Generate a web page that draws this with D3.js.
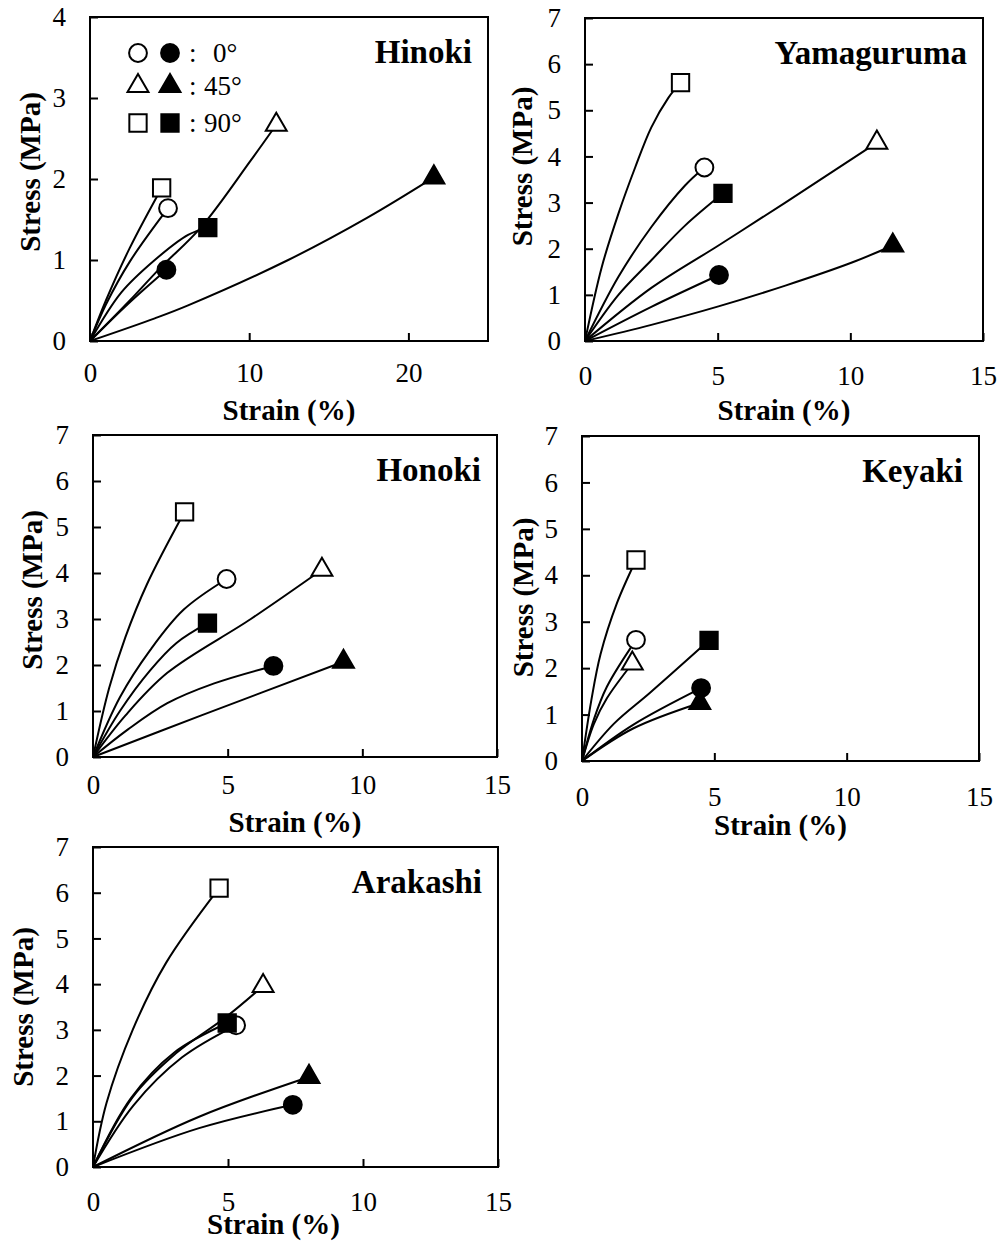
<!DOCTYPE html>
<html>
<head>
<meta charset="utf-8">
<script src="https://cdn.jsdelivr.net/npm/d3@7"></script>
<style>
  body { margin: 0; background: #fff; }
  text { font-family: "Liberation Serif", "Times New Roman", serif; fill: #000; }
</style>
</head>
<body>
<svg id="fig" width="1001" height="1241"></svg>
<script>
// panel setup
var panelNames = ["Hinoki", "Yamaguruma", "Honoki", "Keyaki", "Arakashi"];
var xMaxes = [25, 15, 15, 15, 15];
var yMaxes = [4, 7, 7, 7, 7];
var xTicks = [[0, 10, 20], [0, 5, 10, 15], [0, 5, 10, 15], [0, 5, 10, 15], [0, 5, 10, 15]];
var angleLabels = ["0°", "45°", "90°"];

// curves: strain (%) vs stress (MPa), last point carries the marker
// angle index: 0 = 0°, 1 = 45°, 2 = 90°
var hinoki = [
  {angle: 0, filled: false, pts: [[0, 0], [1, 0.45], [2.5, 0.98], [4.9, 1.64]]},
  {angle: 0, filled: true,  pts: [[0, 0], [2.4, 0.46], [4.8, 0.88]]},
  {angle: 1, filled: false, pts: [[0, 0], [2.5, 0.5], [4.4, 0.9], [7, 1.41], [10.1, 2.23], [11.7, 2.67]]},
  {angle: 1, filled: true,  pts: [[0, 0], [4.07, 0.28], [6.16, 0.44], [12.45, 1.0], [17.4, 1.52], [21.6, 2.02]]},
  {angle: 2, filled: false, pts: [[0, 0], [1, 0.5], [2.5, 1.15], [4.5, 1.89]]},
  {angle: 2, filled: true,  pts: [[0, 0], [1.97, 0.6], [4.07, 1.0], [6.16, 1.31], [7.4, 1.4]]}
];
var yamaguruma = [
  {angle: 0, filled: false, pts: [[0, 0], [1.26, 1.39], [2.5, 2.47], [3.77, 3.37], [4.5, 3.76]]},
  {angle: 0, filled: true,  pts: [[0, 0], [2.5, 0.74], [5.05, 1.43]]},
  {angle: 1, filled: false, pts: [[0, 0], [2.5, 1.15], [5.03, 2.07], [7.55, 3.0], [11, 4.3]]},
  {angle: 1, filled: true,  pts: [[0, 0], [2.5, 0.35], [5.03, 0.75], [7.55, 1.2], [10.06, 1.7], [11.6, 2.07]]},
  {angle: 2, filled: false, pts: [[0, 0], [0.63, 1.6], [1.26, 2.76], [1.89, 3.76], [2.5, 4.63], [3.14, 5.27], [3.6, 5.6]]},
  {angle: 2, filled: true,  pts: [[0, 0], [1.26, 1.0], [2.5, 1.75], [3.77, 2.5], [5.2, 3.2]]}
];
var honoki = [
  {angle: 0, filled: false, pts: [[0, 0], [1, 1.3], [2.13, 2.33], [3.36, 3.2], [4.96, 3.87]]},
  {angle: 0, filled: true,  pts: [[0, 0], [1.3, 0.6], [2.76, 1.17], [4.5, 1.6], [6.7, 1.98]]},
  {angle: 1, filled: false, pts: [[0, 0], [1.2, 0.9], [2.76, 1.83], [5.86, 3.0], [8.5, 4.07]]},
  {angle: 1, filled: true,  pts: [[0, 0], [4, 0.9], [9.3, 2.07]]},
  {angle: 2, filled: false, pts: [[0, 0], [0.6, 1.5], [1.2, 2.6], [2, 3.75], [3.4, 5.33]]},
  {angle: 2, filled: true,  pts: [[0, 0], [1, 1.0], [2.13, 1.89], [3.1, 2.48], [4.25, 2.91]]}
];
var keyaki = [
  {angle: 0, filled: false, pts: [[0, 0], [0.45, 0.9], [0.94, 1.6], [2.04, 2.61]]},
  {angle: 0, filled: true,  pts: [[0, 0], [1.93, 0.78], [4.5, 1.57]]},
  {angle: 1, filled: false, pts: [[0, 0], [0.45, 0.8], [0.94, 1.35], [1.9, 2.1]]},
  {angle: 1, filled: true,  pts: [[0, 0], [1.93, 0.7], [4.45, 1.25]]},
  {angle: 2, filled: false, pts: [[0, 0], [0.35, 1.3], [0.7, 2.3], [1.32, 3.4], [2.04, 4.33]]},
  {angle: 2, filled: true,  pts: [[0, 0], [1.2, 0.8], [2.57, 1.47], [4.8, 2.6]]}
];
var arakashi = [
  {angle: 0, filled: false, pts: [[0, 0], [1.5, 1.35], [3.3, 2.4], [5.3, 3.1]]},
  {angle: 0, filled: true,  pts: [[0, 0], [3.93, 0.85], [7.4, 1.36]]},
  {angle: 1, filled: false, pts: [[0, 0], [1.47, 1.53], [3, 2.45], [4.97, 3.3], [6.3, 3.96]]},
  {angle: 1, filled: true,  pts: [[0, 0], [3.93, 1.1], [8, 1.97]]},
  {angle: 2, filled: false, pts: [[0, 0], [0.5, 1.4], [1.47, 3.0], [2.7, 4.46], [4.67, 6.1]]},
  {angle: 2, filled: true,  pts: [[0, 0], [1.4, 1.5], [3, 2.5], [4.97, 3.15]]}
];
var panelData = [hinoki, yamaguruma, honoki, keyaki, arakashi];

// layout (pixels)
var frames = [
  {x0: 90,  y0: 17,  x1: 488, y1: 341, tickPad: 22, xLab: 69, xLabDx: 0,   yLabX: 50, yLabDy: -7},
  {x0: 585, y0: 18,  x1: 983, y1: 341, tickPad: 25, xLab: 69, xLabDx: 0,   yLabX: 53, yLabDy: -13},
  {x0: 93,  y0: 435, x1: 497, y1: 757, tickPad: 18, xLab: 65, xLabDx: 0,   yLabX: 51, yLabDy: -6},
  {x0: 582, y0: 436, x1: 979, y1: 761, tickPad: 26, xLab: 64, xLabDx: 0,   yLabX: 49, yLabDy: -1},
  {x0: 93,  y0: 847, x1: 498, y1: 1167, tickPad: 25, xLab: 57, xLabDx: -22, yLabX: 60, yLabDy: 0}
];

var svg = d3.select("svg#fig");

var symType = [d3.symbolCircle, d3.symbolTriangle, d3.symbolSquare];
var symSize = [250, 190, 300];
function symbolPath(angle) {
  return d3.symbol().type(symType[angle]).size(symSize[angle])();
}

panelNames.forEach(function(name, i) {
  var f = frames[i];
  var x = d3.scaleLinear().domain([0, xMaxes[i]]).range([f.x0, f.x1]);
  var y = d3.scaleLinear().domain([0, yMaxes[i]]).range([f.y1, f.y0]);
  var g = svg.append("g");

  g.append("g")
      .attr("transform", "translate(0," + f.y1 + ")")
      .call(d3.axisBottom(x).tickValues(xTicks[i]).tickFormat(d3.format("d"))
        .tickSizeInner(-8).tickSizeOuter(0).tickPadding(f.tickPad))
      .call(function(a) { a.select(".domain").remove(); });

  g.append("g")
      .attr("transform", "translate(" + f.x0 + ",0)")
      .call(d3.axisLeft(y).tickValues(d3.range(0, yMaxes[i] + 1)).tickFormat(d3.format("d"))
        .tickSizeInner(-8).tickSizeOuter(0).tickPadding(24))
      .call(function(a) { a.select(".domain").remove(); });

  g.selectAll(".tick line").attr("stroke", "#000").attr("stroke-width", 2);
  g.selectAll(".tick text")
      .attr("font-family", "Liberation Serif, Times New Roman, serif")
      .attr("font-size", 27)
      .attr("fill", "#000");

  g.append("rect")
      .attr("x", f.x0).attr("y", f.y0)
      .attr("width", f.x1 - f.x0).attr("height", f.y1 - f.y0)
      .attr("fill", "none").attr("stroke", "#000").attr("stroke-width", 2);

  var line = d3.line()
      .x(function(d) { return x(d[0]); })
      .y(function(d) { return y(d[1]); })
      .curve(d3.curveCatmullRom.alpha(0.5));

  var series = panelData[i];
  g.selectAll(".curve").data(series).enter().append("path")
      .attr("class", "curve")
      .attr("d", function(d) { return line(d.pts); })
      .attr("fill", "none")
      .attr("stroke", "#000")
      .attr("stroke-width", 2);

  // open markers first, filled ones on top
  var ordered = series.filter(function(d) { return !d.filled; }).concat(series.filter(function(d) { return d.filled; }));
  g.selectAll(".mark").data(ordered).enter().append("path")
      .attr("class", "mark")
      .attr("transform", function(d) {
        var p = d.pts[d.pts.length - 1];
        return "translate(" + x(p[0]) + "," + y(p[1]) + ")";
      })
      .attr("d", function(d) { return symbolPath(d.angle); })
      .attr("fill", function(d) { return d.filled ? "#000" : "#fff"; })
      .attr("stroke", "#000")
      .attr("stroke-width", 2);

  g.append("text")
      .attr("x", f.x1 - 16).attr("y", f.y0 + 46)
      .attr("text-anchor", "end")
      .attr("font-size", 33).attr("font-weight", "bold")
      .text(name);

  g.append("text")
      .attr("x", (f.x0 + f.x1) / 2 + f.xLabDx).attr("y", f.y1 + f.xLab + 10)
      .attr("text-anchor", "middle")
      .attr("font-size", 29).attr("font-weight", "bold")
      .text("Strain (%)");

  g.append("text")
      .attr("transform", "translate(" + (f.x0 - f.yLabX) + "," + ((f.y0 + f.y1) / 2 + f.yLabDy) + ") rotate(-90)")
      .attr("text-anchor", "middle")
      .attr("font-size", 29).attr("font-weight", "bold")
      .text("Stress (MPa)");
});

// legend in the Hinoki panel
var legendRows = [53, 86, 123];
var legend = svg.append("g");
angleLabels.forEach(function(lab, k) {
  [false, true].forEach(function(filled, j) {
    legend.append("path")
        .attr("transform", "translate(" + (138 + j * 32) + "," + legendRows[k] + ")")
        .attr("d", symbolPath(k))
        .attr("fill", filled ? "#000" : "#fff")
        .attr("stroke", "#000")
        .attr("stroke-width", 2);
  });
  legend.append("text")
      .attr("x", 189).attr("y", legendRows[k] + 9)
      .attr("font-size", 27)
      .text(":");
  legend.append("text")
      .attr("x", lab.length < 3 ? 213 : 204).attr("y", legendRows[k] + 9)
      .attr("font-size", 27)
      .text(lab);
});
</script>
</body>
</html>
